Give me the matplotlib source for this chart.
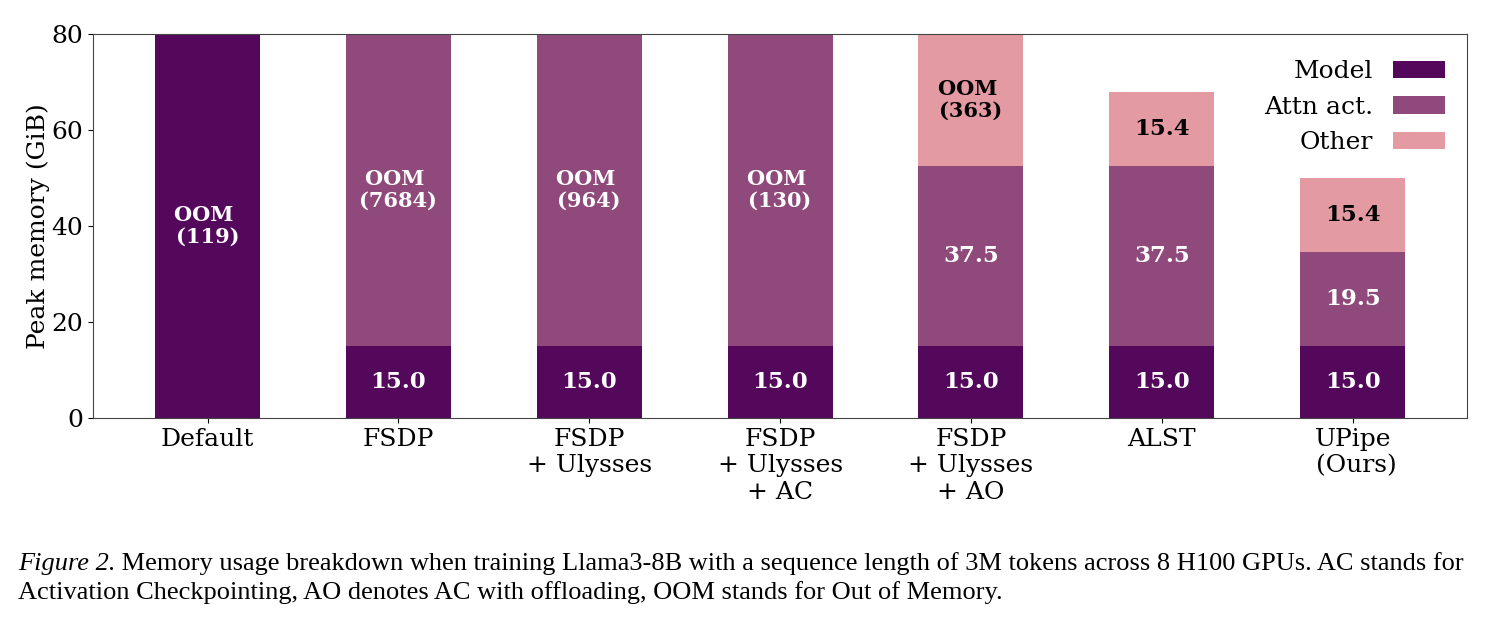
import matplotlib
matplotlib.use("Agg")
import matplotlib.pyplot as plt
import numpy as np

categories = ["Default", "FSDP", "FSDP\n+ Ulysses", "FSDP\n+ Ulysses\n+ AC",
              "FSDP\n+ Ulysses\n+ AO", "ALST", "UPipe\n (Ours)"]
model = [119, 15.0, 15.0, 15.0, 15.0, 15.0, 15.0]
attn = [0, 7669, 949, 115, 37.5, 37.5, 19.5]
other = [0, 0, 0, 0, 310.5, 15.4, 15.4]
oom_totals = [119, 7684, 964, 130, 363, None, None]
series_names = ["Model", "Attn act.", "Other"]
colors = ["#54085c", "#8f4a7b", "#e49aa3"]
ymax = 80

plt.rcParams['font.family'] = ['DejaVu Serif']
fig = plt.figure(figsize=(14.91, 6.23), dpi=100)
ax = fig.add_axes([0.0624, 0.329, 0.9216, 0.6166])

x = np.arange(len(categories))
w = 0.55
m = np.array(model, float)
a = np.array(attn, float)
o = np.array(other, float)
ax.bar(x, m, w, color=colors[0], label=series_names[0])
ax.bar(x, a, w, bottom=m, color=colors[1], label=series_names[1])
ax.bar(x, o, w, bottom=m + a, color=colors[2], label=series_names[2])

ax.set_ylim(0, ymax)
ax.set_xlim(-0.6, 6.6)
for i in range(len(categories)):
    segs = [(m[i], 0, 'white'), (a[i], m[i], 'white'), (o[i], m[i] + a[i], 'black')]
    last = max(k for k, s in enumerate(segs) if s[0] > 0)
    for k, (h, base, tc) in enumerate(segs):
        if h <= 0:
            continue
        top = min(base + h, ymax)
        yc = (base + top) / 2
        if k == last and oom_totals[i] is not None:
            txt = f"OOM \n({oom_totals[i]})"
            fs = 15
        else:
            txt = f"{h:.1f}"
            fs = 16.5
        ax.text(x[i], yc, txt, ha='center', va='center', color=tc,
                fontsize=fs, fontweight='bold', linespacing=1.1)

ax.set_xticks(x)
ax.set_xticklabels(categories, fontsize=18, linespacing=1.2)
ax.set_yticks([0, 20, 40, 60, 80])
ax.tick_params(axis='y', labelsize=18)
ax.set_ylabel("Peak memory (GiB)", fontsize=18, labelpad=1)
for s in ax.spines.values():
    s.set_color('#444444')
    s.set_linewidth(0.8)

ax.legend(loc='upper right', frameon=False, fontsize=18, markerfirst=False,
          handlelength=2.05, handleheight=0.7, labelspacing=0.5,
          bbox_to_anchor=(1.0, 0.99))

cap_fs = 19
x0 = 0.012
y1, y2 = 0.085, 0.038
t1 = fig.text(x0, y1, "Figure 2.", fontsize=cap_fs, family='Liberation Serif',
              style='italic', va='baseline')
fig.canvas.draw()
r = fig.canvas.get_renderer()
bb = t1.get_window_extent(renderer=r)
x1 = bb.x1 / fig.bbox.width
fig.text(x1, y1,
         " Memory usage breakdown when training Llama3-8B with a sequence length of 3M tokens across 8 H100 GPUs. AC stands for",
         fontsize=cap_fs, family='Liberation Serif', va='baseline')
fig.text(x0, y2,
         "Activation Checkpointing, AO denotes AC with offloading, OOM stands for Out of Memory.",
         fontsize=cap_fs, family='Liberation Serif', va='baseline')

fig.savefig("out.png", dpi=100)
